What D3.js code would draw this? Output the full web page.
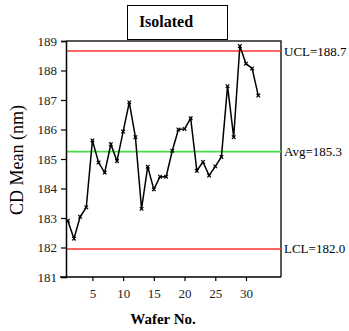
<!DOCTYPE html>
<html>
<head>
<meta charset="utf-8">
<script src="https://cdn.jsdelivr.net/npm/d3@7"></script>
<style>
  body { margin: 0; background: #fff; }
  text { font-family: "Liberation Serif", "Times New Roman", serif; }
</style>
</head>
<body>
<div id="chart"></div>
<script>
var wafers = d3.range(1, 33);
var cdMean = [182.91, 182.3, 183.04, 183.36, 185.63, 184.88, 184.54, 185.5, 184.93, 185.93,
              186.92, 185.74, 183.31, 184.74, 183.97, 184.4, 184.4, 185.28, 186.0, 186.02,
              186.38, 184.6, 184.9, 184.44, 184.75, 185.07, 187.47, 185.74, 188.83, 188.23,
              188.07, 187.15];
var yTicks = [181, 182, 183, 184, 185, 186, 187, 188, 189];
var xTicks = [5, 10, 15, 20, 25, 30];
var limits = [
	{ name: "UCL", value: 188.66, label: "UCL=188.7", color: "#ff3333" },
	{ name: "Avg", value: 185.25, label: "Avg=185.3", color: "#44dd44" },
	{ name: "LCL", value: 181.95, label: "LCL=182.0", color: "#ff3333" }
];

var width = 349,
    height = 331,
    plotL = 66, plotR = 281, plotT = 41, plotB = 277;

var svg = d3.select("#chart").append("svg")
	.attr("width", width)
	.attr("height", height);

var x = d3.scaleLinear().domain([0.7, 35.7]).range([plotL, plotR]);
var y = d3.scaleLinear().domain([181, 189]).range([plotB, plotT]);

/* title box */
svg.append("rect")
	.attr("x", 127.5).attr("y", 5.5)
	.attr("width", 100).attr("height", 34)
	.attr("fill", "#fff").attr("stroke", "#000").attr("stroke-width", 1);

svg.append("text")
	.attr("x", 166).attr("y", 27)
	.attr("text-anchor", "middle")
	.attr("font-family", "Liberation Serif, serif")
	.attr("font-size", 16).attr("font-weight", "bold")
	.text("Isolated");

/* frame: top and right borders */
svg.append("path")
	.attr("d", "M" + plotL + "," + plotT + "H" + plotR + "V" + plotB)
	.attr("fill", "none").attr("stroke", "#222").attr("stroke-width", 1.5);

/* control lines */
svg.append("g").selectAll("line")
	.data(limits)
	.enter().append("line")
		.attr("x1", plotL).attr("x2", plotR)
		.attr("y1", function(d) { return y(d.value); })
		.attr("y2", function(d) { return y(d.value); })
		.attr("stroke", function(d) { return d.color; })
		.attr("stroke-width", 1.6);

svg.append("g").selectAll("text")
	.data(limits)
	.enter().append("text")
		.attr("x", plotR + 3)
		.attr("y", function(d) { return y(d.value) + 4.5; })
		.attr("font-size", 13)
		.text(function(d) { return d.label; });

/* axes */
var yAxis = svg.append("g")
	.attr("transform", "translate(" + plotL + ",0)")
	.call(d3.axisLeft(y).tickValues(yTicks).tickSize(5).tickPadding(4).tickFormat(d3.format("d")));

var xAxis = svg.append("g")
	.attr("transform", "translate(0," + plotB + ")")
	.call(d3.axisBottom(x).tickValues(xTicks).tickSize(4).tickPadding(8));

[yAxis, xAxis].forEach(function(g) {
	g.select(".domain").attr("stroke", "#000").attr("stroke-width", 1.5);
	g.selectAll(".tick line").attr("stroke", "#000").attr("stroke-width", 1.2);
	g.selectAll("text").attr("font-family", "Liberation Serif, serif").attr("font-size", 13).attr("fill", "#222");
});
xAxis.select(".domain").attr("d", "M" + (plotL - 6) + ",0H" + plotR);

/* data line */
var line = d3.line()
	.x(function(d, i) { return x(wafers[i]); })
	.y(function(d) { return y(d); });

svg.append("path")
	.datum(cdMean)
	.attr("d", line)
	.attr("fill", "none")
	.attr("stroke", "#000")
	.attr("stroke-width", 1.5);

svg.append("g").selectAll("path")
	.data(cdMean)
	.enter().append("path")
		.attr("transform", function(d, i) { return "translate(" + x(wafers[i]) + "," + y(d) + ")"; })
		.attr("d", "M-1.8,-1.8L1.8,1.8M-1.8,1.8L1.8,-1.8")
		.attr("stroke", "#000")
		.attr("stroke-width", 1.2);

/* axis titles */
svg.append("text")
	.attr("transform", "translate(23,160) rotate(-90)")
	.attr("text-anchor", "middle")
	.attr("font-size", 18)
	.text("CD Mean (nm)");

svg.append("text")
	.attr("x", 163).attr("y", 324)
	.attr("text-anchor", "middle")
	.attr("font-size", 15).attr("font-weight", "bold")
	.text("Wafer No.");
</script>
</body>
</html>
